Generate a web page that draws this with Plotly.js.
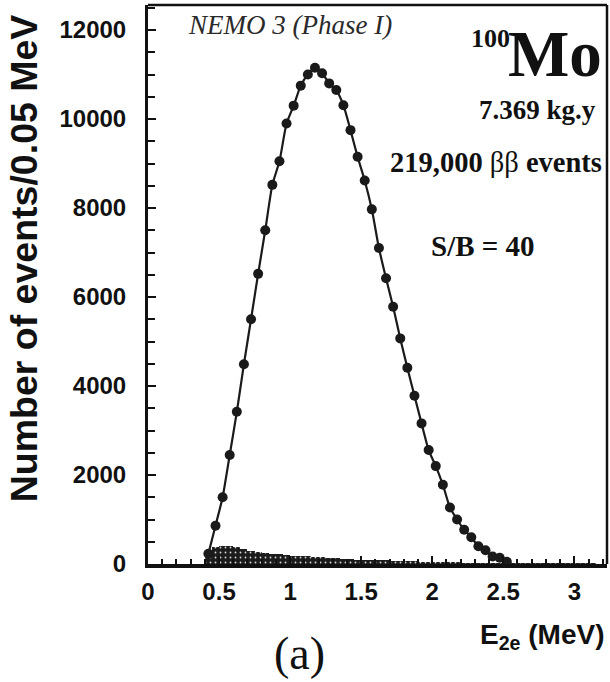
<!DOCTYPE html>
<html>
<head>
<meta charset="utf-8">
<script src="https://cdn.plot.ly/plotly-3.0.1.min.js"></script>
<style>html,body{margin:0;padding:0;background:#fff}#chart{width:610px;height:682px}</style>
</head>
<body>
<div id="chart"></div>
<script>
// Energy bin centres (MeV), 0.05 MeV bins
const energy = [0.425,0.475,0.525,0.575,0.625,0.675,0.725,0.775,0.825,0.875,
  0.925,0.975,1.025,1.075,1.125,1.175,1.225,1.275,1.325,1.375,
  1.425,1.475,1.525,1.575,1.625,1.675,1.725,1.775,1.825,1.875,
  1.925,1.975,2.025,2.075,2.125,2.175,2.225,2.275,2.325,2.375,
  2.425,2.475,2.525];
// Data points (events / 0.05 MeV)
const dataCounts = [230,860,1500,2450,3420,4490,5500,6520,7500,8520,
  9050,9900,10300,10750,11000,11150,11030,10800,10650,10310,
  9750,9150,8620,7970,7100,6420,5780,5070,4410,3780,
  3160,2560,2200,1780,1270,1000,770,600,400,310,
  170,140,50];
// Background histogram
const bgEnergy = [0.425,0.475,0.525,0.575,0.625,0.675,0.725,0.775,0.825,0.875,
  0.925,0.975,1.025,1.075,1.125,1.175,1.225,1.275,1.325,1.375,
  1.425,1.475,1.525,1.575,1.625,1.675,1.725,1.775,1.825,1.875,
  1.925,1.975,2.025,2.075,2.125,2.175,2.225,2.275,2.325,2.375,
  2.425,2.475,2.525,2.575,2.625,2.675,2.725,2.775,2.825,2.875,
  2.925,2.975,3.025,3.075,3.125,3.175,3.225];
const bgCounts = [280,390,410,400,380,340,300,270,250,235,
  220,205,190,180,170,160,150,140,130,120,
  110,100,95,90,85,80,75,70,65,60,
  55,50,45,40,38,35,32,30,28,26,
  24,22,20,18,17,16,15,15,14,14,
  13,13,12,12,12,11,11];
const xTickVals = [0,0.5,1,1.5,2,2.5,3];
const xTickText = ['0','0.5','1','1.5','2','2.5','3'];
const yTickVals = [0,2000,4000,6000,8000,10000,12000];
const yTickText = ['0','2000','4000','6000','8000','10000','12000'];

const traces = [
  {
    type:'bar', x:bgEnergy, y:bgCounts, width:0.05,
    marker:{color:'#1c1c1c', line:{width:0},
      pattern:{shape:'.', fgcolor:'#d8d8d8', bgcolor:'#1c1c1c', size:5, solidity:0.1}},
    hoverinfo:'skip', showlegend:false
  },
  {
    type:'scatter', mode:'lines+markers', x:energy, y:dataCounts,
    line:{color:'#1a1a1a', width:2.2, shape:'spline', smoothing:0.6},
    marker:{color:'#1a1a1a', size:10},
    showlegend:false
  }
];

const tickFont = {family:'Liberation Sans, Arial, sans-serif', size:24, color:'#111', weight:'bold'};
const serif = 'Liberation Serif, Times New Roman, serif';
const layout = {
  width:610, height:682,
  margin:{l:148, r:3, t:5, b:118},
  paper_bgcolor:'#fff', plot_bgcolor:'#fff',
  bargap:0,
  showlegend:false,
  xaxis:{
    range:[0,3.23], showgrid:false, zeroline:false,
    showline:true, linewidth:4, linecolor:'#111',
    ticks:'inside', ticklen:8, tickwidth:2, tickcolor:'#111',
    tickvals:xTickVals, ticktext:xTickText, tickfont:tickFont,
    ticklabelstandoff:3,
    minor:{dtick:0.1, ticks:'inside', ticklen:5, tickwidth:2, tickcolor:'#111', showgrid:false}
  },
  yaxis:{
    range:[0,12562], showgrid:false, zeroline:false,
    showline:true, linewidth:3, linecolor:'#111',
    ticks:'inside', ticklen:8, tickwidth:2, tickcolor:'#111',
    tickvals:yTickVals, ticktext:yTickText, tickfont:tickFont,
    ticklabelstandoff:14,
    minor:{dtick:500, ticks:'inside', ticklen:7, tickwidth:2, tickcolor:'#111', showgrid:false}
  },
  shapes:[
    {type:'line', xref:'paper', yref:'paper', x0:0, x1:1, y0:1, y1:1, line:{color:'#111', width:2.5}},
    {type:'line', xref:'paper', yref:'paper', x0:1, x1:1, y0:0, y1:1, line:{color:'#111', width:2.5}}
  ],
  annotations:[
    {xref:'paper', yref:'paper', x:-0.27, y:0.547, xanchor:'center', yanchor:'middle', textangle:-90, showarrow:false,
     text:'Number of events/0.05 MeV',
     font:{family:'Liberation Sans, Arial, sans-serif', size:37.5, color:'#111', weight:'bold'}},
    {xref:'paper', yref:'paper', x:0.998, y:-0.13, xanchor:'right', yanchor:'middle', showarrow:false,
     text:'<b>E<sub>2e</sub> (MeV)</b>',
     font:{family:'Liberation Sans, Arial, sans-serif', size:28, color:'#111'}},
    {xref:'paper', yref:'paper', x:0.331, y:-0.16, xanchor:'center', yanchor:'middle', showarrow:false,
     text:'(a)', font:{family:serif, size:46, color:'#111'}},
    {xref:'paper', yref:'paper', x:0.31, y:0.964, xanchor:'center', yanchor:'middle', showarrow:false,
     text:'<i>NEMO 3 (Phase I)</i>', font:{family:serif, size:27, color:'#2a2a2a'}},
    {xref:'paper', yref:'paper', x:0.9935, y:0.913, xanchor:'right', yanchor:'middle', showarrow:false,
     text:'<b>Mo</b>', font:{family:serif, size:65, color:'#111'}},
    {xref:'paper', yref:'paper', x:0.792, y:0.94, xanchor:'right', yanchor:'middle', showarrow:false,
     text:'<b>100</b>', font:{family:serif, size:26, color:'#111'}},
    {xref:'paper', yref:'paper', x:0.848, y:0.812, xanchor:'center', yanchor:'middle', showarrow:false,
     text:'<b>7.369 kg.y</b>', font:{family:serif, size:27, color:'#111'}},
    {xref:'paper', yref:'paper', x:0.758, y:0.719, xanchor:'center', yanchor:'middle', showarrow:false,
     text:'<b>219,000</b> ββ <b>events</b>', font:{family:serif, size:28.5, color:'#111'}},
    {xref:'paper', yref:'paper', x:0.73, y:0.568, xanchor:'center', yanchor:'middle', showarrow:false,
     text:'<b>S/B = 40</b>', font:{family:serif, size:29, color:'#111'}}
  ]
};
Plotly.newPlot('chart', traces, layout, {displayModeBar:false, staticPlot:true});
</script>
</body>
</html>
